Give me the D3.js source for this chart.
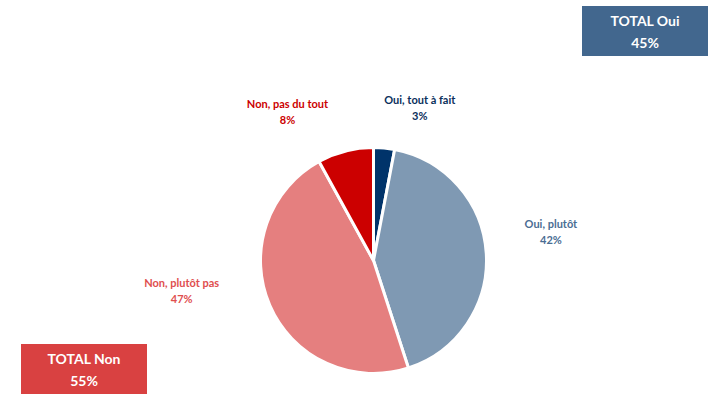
<!DOCTYPE html>
<html>
<head>
<meta charset="utf-8">
<script src="https://cdn.jsdelivr.net/npm/d3@7"></script>
<style>
  body { margin: 0; background: #fff; }
  svg text { font-family: Lato, "Open Sans", sans-serif; font-weight: bold; }
</style>
</head>
<body>
<div id="chart"></div>
<script>
// data
var categories = ["Oui, tout à fait", "Oui, plutôt", "Non, plutôt pas", "Non, pas du tout"];
var values = [3, 42, 47, 8];
var sliceColors = ["#00336a", "#7f99b3", "#e57f7f", "#cc0000"];
var labelColors = ["#0a2f5c", "#4a6d93", "#e04e4e", "#cc0000"];
// hand placed label offsets from the slice centroid
var labelOffsets = [[41, -100], [121, -29], [-140, 4], [-72, -98]];

var totals = [
    { label: "TOTAL Oui", value: 45, x: 582, y: 6, color: "#42678e" },
    { label: "TOTAL Non", value: 55, x: 21, y: 344, color: "#d94141" }
];

var width = 726, height = 403;
var cx = 373.5, cy = 260.5, radius = 113;

var svg = d3.select("#chart").append("svg")
    .attr("width", width)
    .attr("height", height);

var pie = d3.pie().sort(null).value(function (d) { return d; });
var arc = d3.arc().innerRadius(0).outerRadius(radius);
var arcs = pie(values);

var g = svg.append("g").attr("transform", "translate(" + cx + "," + cy + ")");

g.selectAll("path")
    .data(arcs)
    .enter()
    .append("path")
    .attr("d", arc)
    .style("fill", function (d, i) { return sliceColors[i]; })
    .style("stroke", "#fff")
    .style("stroke-width", 3)
    .style("stroke-linejoin", "round");

var labels = g.selectAll("text.lbl")
    .data(arcs)
    .enter()
    .append("text")
    .attr("class", "lbl")
    .attr("text-anchor", "middle")
    .style("font-size", "11px")
    .style("fill", function (d, i) { return labelColors[i]; })
    .attr("transform", function (d, i) {
        var c = arc.centroid(d);
        return "translate(" + (c[0] + labelOffsets[i][0]) + "," + (c[1] + labelOffsets[i][1]) + ")";
    });

labels.append("tspan")
    .attr("x", 0)
    .attr("dy", 0)
    .text(function (d, i) { return categories[i]; });
labels.append("tspan")
    .attr("x", 0)
    .attr("dy", 16)
    .text(function (d) { return d.data + "%"; });

// total boxes
var boxes = svg.selectAll("g.total")
    .data(totals)
    .enter()
    .append("g")
    .attr("class", "total")
    .attr("transform", function (d) { return "translate(" + d.x + "," + d.y + ")"; });

boxes.append("rect")
    .attr("width", 126)
    .attr("height", 50)
    .style("fill", function (d) { return d.color; });

boxes.append("text")
    .attr("x", 63)
    .attr("y", 20)
    .attr("text-anchor", "middle")
    .style("font-size", "14px")
    .style("fill", "#fff")
    .text(function (d) { return d.label; });

boxes.append("text")
    .attr("x", 63)
    .attr("y", 42)
    .attr("text-anchor", "middle")
    .style("font-size", "14px")
    .style("fill", "#fff")
    .text(function (d) { return d.value + "%"; });
</script>
</body>
</html>
